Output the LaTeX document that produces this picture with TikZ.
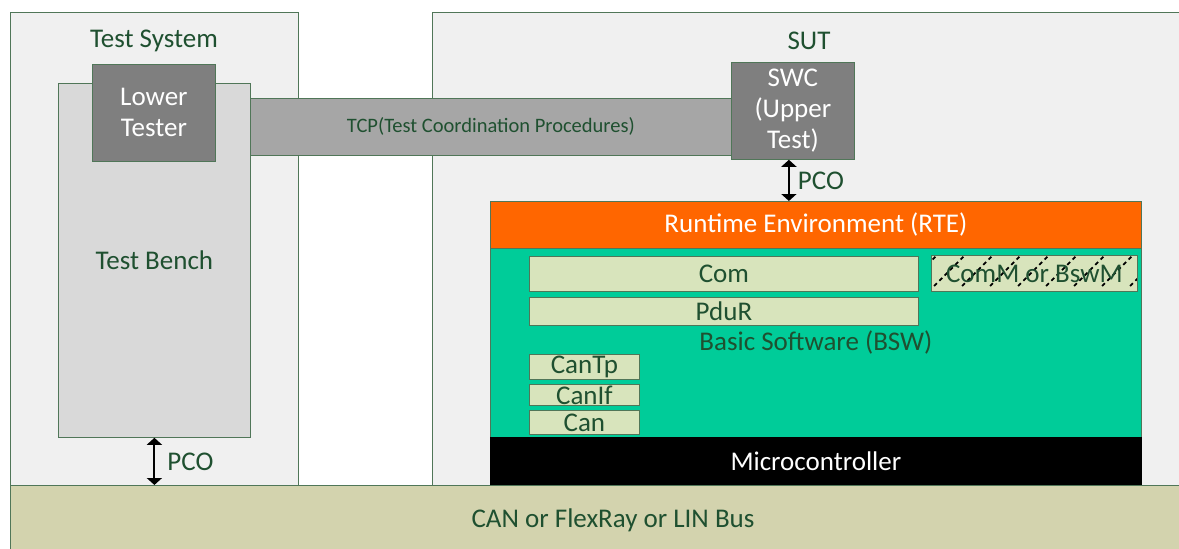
\documentclass[tikz,border=0pt]{standalone}
\usepackage{fontspec}
\setmainfont{Carlito}
\usetikzlibrary{arrows.meta}
\definecolor{tc}{RGB}{31,80,48}
\definecolor{lc}{RGB}{80,118,88}
\definecolor{sysfill}{RGB}{240,240,240}
\definecolor{benchfill}{RGB}{217,217,217}
\definecolor{darkfill}{RGB}{127,127,127}
\definecolor{tcpfill}{RGB}{166,166,166}
\definecolor{rtefill}{RGB}{255,102,0}
\definecolor{bswfill}{RGB}{0,204,153}
\definecolor{modfill}{RGB}{216,228,188}
\definecolor{busfill}{RGB}{211,211,174}
\begin{document}
\begin{tikzpicture}[x=1pt,y=-1pt,
  blk/.style={draw=lc, line width=0.8pt, anchor=north west, inner sep=0pt, align=center, text=tc, font=\fontsize{27}{31}\selectfont},
  dark/.style={blk, fill=darkfill, text=white},
  mod/.style={blk, fill=modfill},
  lbl/.style={text=tc, font=\fontsize{27}{31}\selectfont, inner sep=0pt},
  pco/.style={line width=2pt, {Triangle[length=7pt,width=15pt]}-{Triangle[length=7pt,width=15pt]}}]
\useasboundingbox (0,0) rectangle (1179,549);
\fill[white] (0,0) rectangle (1179,549);
% containers
\node[blk, fill=sysfill, minimum width=288pt, minimum height=473pt] (ts) at (10,12) {};
\node[lbl] (tslbl) at (154,41) {Test System};
\node[blk, fill=sysfill, minimum width=800pt, minimum height=473pt] (sut) at (432,12) {};
\node[lbl] (sutlbl) at (809,41) {SUT};
% test bench
\node[blk, fill=benchfill, minimum width=192pt, minimum height=354pt] (bench) at (58,83) {Test Bench};
\node[blk, fill=tcpfill, minimum width=481pt, minimum height=57pt, font=\fontsize{20.5}{24}\selectfont] (tcp) at (250,98) {TCP(Test Coordination Procedures)};
\node[dark, minimum width=123pt, minimum height=97pt] (lt) at (92,64) {Lower\\Tester};
\node[dark, minimum width=123pt, minimum height=97pt] (swc) at (731,62) {SWC\\(Upper\\Test)};
% ECU stack
\node[blk, fill=rtefill, text=white, minimum width=651pt, minimum height=47pt] (rte) at (490,201) {Runtime Environment (RTE)};
\node[blk, fill=bswfill, minimum width=651pt, minimum height=189pt] (bsw) at (490,248) {Basic Software (BSW)};
\node[blk, fill=black, draw=black, text=white, minimum width=651pt, minimum height=48pt] (mc) at (490,437) {Microcontroller};
\node[mod, minimum width=389pt, minimum height=35pt] (com) at (529,256) {Com};
\node[mod, minimum width=206pt, minimum height=36pt,
  path picture={\begin{scope}[shift={(path picture bounding box.south west)}]
    \foreach \i in {-40,-12,...,220} \draw[black, line width=1.8pt, dash pattern=on 4pt off 3.5pt] (\i,4) -- ++(46,-46);
  \end{scope}}] (comm) at (931,255) {ComM or BswM};
\node[mod, minimum width=389pt, minimum height=28pt] (pdur) at (529,297) {PduR};
\node[mod, minimum width=110pt, minimum height=25pt] (cantp) at (529,354) {CanTp};
\node[mod, minimum width=110pt, minimum height=21pt] (canif) at (529,384) {CanIf};
\node[mod, minimum width=110pt, minimum height=24pt] (can) at (529,410) {Can};
% bus
\node[blk, fill=busfill, minimum width=1180pt, minimum height=70pt] (bus) at (10,485) {};
\node[lbl] (buslbl) at (613,520) {CAN or FlexRay or LIN Bus};
% PCO arrows
\draw[pco] ([xshift=-4pt]swc.south) -- ([xshift=-4pt]swc.south |- rte.north) node[midway, right=8pt, lbl] (pco1) {PCO};
\draw[pco] (bench.south) -- (bench.south |- bus.north) node[midway, right=12pt, lbl] (pco2) {PCO};
\end{tikzpicture}
\end{document}
